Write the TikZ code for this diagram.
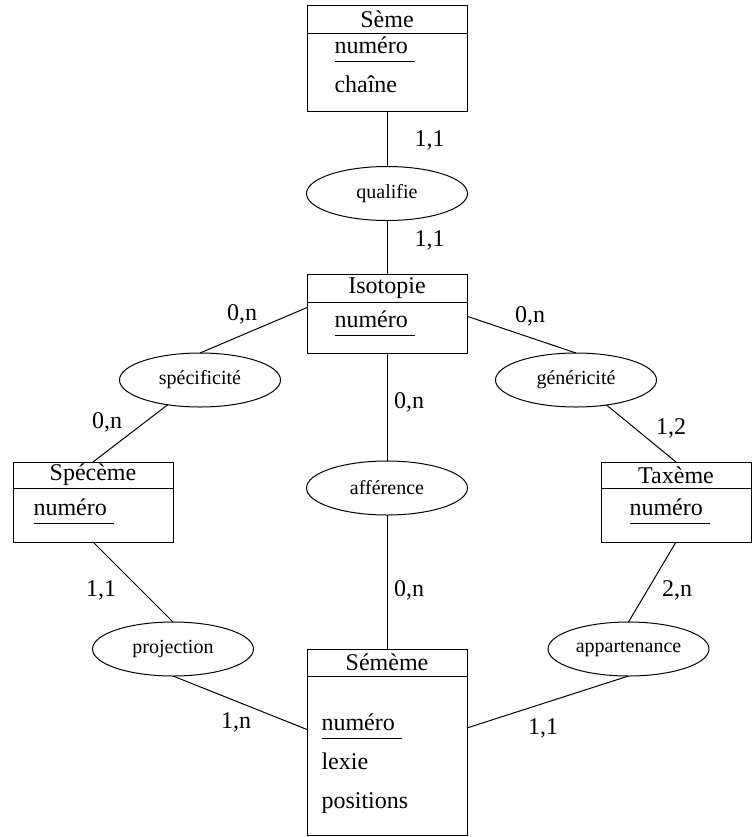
\documentclass[tikz,border=0pt]{standalone}
\usepackage{fontspec}
\setmainfont{Liberation Serif}
\usetikzlibrary{positioning, shapes.geometric}

\newcommand{\cle}[1]{\underline{#1\vphantom{p}\hspace{3.5pt}}}

\begin{document}
\begin{tikzpicture}[
    x=0.5pt, y=-0.5pt,
    line width=0.5pt,
    node distance=0pt,
    entete/.style={draw, inner sep=0pt, outer sep=0pt, minimum width=80pt,
      minimum height=14pt, font=\fontsize{12}{14}\selectfont},
    corps/.style={draw, inner sep=0pt, outer sep=0pt, minimum width=80pt},
    attr/.style={anchor=base west, inner sep=0pt, font=\fontsize{12}{14}\selectfont},
    relation/.style={draw, ellipse, inner sep=0pt, outer sep=0pt, minimum width=80.5pt,
      minimum height=27pt, font=\fontsize{10}{12}\selectfont},
    card/.style={inner sep=0pt, font=\fontsize{12}{14}\selectfont}
  ]
  \useasboundingbox (0,0) rectangle (752,837);

  % entites
  \node[entete, anchor=north] (seme) at (387,5) {Sème};
  \node[corps, below=of seme, minimum height=39pt] (semeb) {};
  \node[entete, anchor=north] (iso) at (387,274) {Isotopie};
  \node[corps, below=of iso, minimum height=25.5pt] (isob) {};
  \node[entete, anchor=north, minimum height=13pt] (spc) at (93,462) {Spécème};
  \node[corps, below=of spc, minimum height=27pt] (spcb) {};
  \node[entete, anchor=north, minimum height=13pt, minimum width=75pt] (tax) at (676,462) {Taxème};
  \node[corps, below=of tax, minimum height=27pt, minimum width=75pt] (taxb) {};
  \node[entete, anchor=north, minimum height=13.5pt] (sem) at (387,649) {Sémème};
  \node[corps, below=of sem, minimum height=79.5pt] (semb) {};

  % attributs
  \node[attr] (semenum) at (334,53) {\cle{numéro}};
  \node[attr] (semech) at (334,92) {chaîne};
  \node[attr] (isonum) at (334,327) {\cle{numéro}};
  \node[attr] (spcnum) at (33,515) {\cle{numéro}};
  \node[attr] (taxnum) at (629,515) {\cle{numéro}};
  \node[attr] (semnum) at (321,730) {\cle{numéro}};
  \node[attr] (semlex) at (321,769) {lexie};
  \node[attr] (sempos) at (321,808) {positions};

  % associations
  \node[relation] (qual) at (387,193.5) {qualifie};
  \node[relation] (spe) at (200,380) {spécificité};
  \node[relation] (gen) at (576,380) {généricité};
  \node[relation] (aff) at (387,488) {afférence};
  \node[relation] (proj) at (173,649) {projection};
  \node[relation] (app) at (628.5,649) {appartenance};

  \draw (semeb.south) -- (qual.north);
  \draw (qual.south) -- (iso.north);
  \draw (isob.166) -- (spe.north);
  \draw (isob.8) -- (gen.north);
  \draw (spe) -- (spc.north);
  \draw (gen) -- (tax.north);
  \draw (isob.south) -- (aff.north);
  \draw (aff.south) -- (sem.north);
  \draw (spcb.south) -- (proj.north);
  \draw (taxb.south) -- (app.north);
  \draw (proj.south) -- (semb.162);
  \draw (app.south) -- (semb.19);

  % cardinalites
  \node[card] (c1) at (429.5,140) {1,1};
  \node[card] (c2) at (429.5,240) {1,1};
  \node[card] (c3) at (242,314) {0,n};
  \node[card] (c4) at (530,316) {0,n};
  \node[card] (c5) at (107,422) {0,n};
  \node[card] (c6) at (671,428) {1,2};
  \node[card] (c7) at (409,402) {0,n};
  \node[card] (c8) at (409,590) {0,n};
  \node[card] (c9) at (101,590) {1,1};
  \node[card] (c10) at (677,590) {2,n};
  \node[card] (c11) at (236,722) {1,n};
  \node[card] (c12) at (543,728) {1,1};
\end{tikzpicture}
\end{document}
